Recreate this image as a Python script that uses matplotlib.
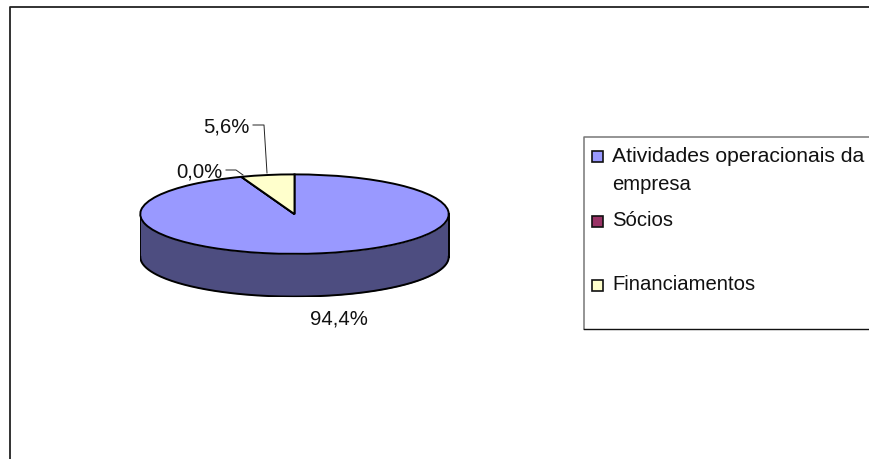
import numpy as np
import matplotlib
matplotlib.use("Agg")
import matplotlib.pyplot as plt
from matplotlib.patches import Rectangle

categories = ["Atividades operacionais da\nempresa", "Sócios", "Financiamentos"]
values = [94.4, 0.0, 5.6]
labels = ["94,4%", "0,0%", "5,6%"]
colors = ["#9999FF", "#993366", "#FFFFCC"]
side_color = "#4D4D80"

W, H = 869, 460
plt.rcParams["font.family"] = ["Liberation Sans", "DejaVu Sans"]
fig = plt.figure(figsize=(W / 100, H / 100), dpi=100, facecolor="white")

# overlay in pixel coordinates for frame, legend, labels
ov = fig.add_axes([0, 0, 1, 1], zorder=3)
ov.set_xlim(0, W)
ov.set_ylim(H, 0)
ov.axis("off")
ov.patch.set_alpha(0)

cx, cy, rx, ry, depth = 294.5, 215, 155, 40, 43

# pie axes: 1 data unit = rx px horizontally, ry px vertically
bottom_units = 1 + depth / ry
pie_ax = fig.add_axes([(cx - rx) / W, 1 - (cy + ry + depth) / H,
                       2 * rx / W, (2 * ry + depth) / H], zorder=2)
t = np.linspace(np.pi, 2 * np.pi, 200)
xs, ys = np.cos(t), np.sin(t)
pie_ax.fill_between(xs, ys, ys - depth / ry, color=side_color, lw=0)
pie_ax.plot(xs, ys - depth / ry, color="black", lw=1.4)
pie_ax.plot([-1, -1], [0, -depth / ry], color="black", lw=1.4)
pie_ax.plot([1, 1], [0, -depth / ry], color="black", lw=1.4)
pie_ax.pie(values, colors=colors, startangle=90, counterclock=False, radius=1,
           wedgeprops=dict(edgecolor="black", linewidth=1.4))
pie_ax.set_aspect("auto")
pie_ax.set_xlim(-1.005, 1.005)
pie_ax.set_ylim(-bottom_units - 0.01, 1.01)
pie_ax.axis("off")

# chart frame
ov.plot([9.5, 9.5, W + 2], [H + 2, 7.5, 7.5], color="#222222", lw=1.3, clip_on=False)

# data labels and leaders
fs = 14.6
ov.text(339, 319, labels[0], ha="center", va="center", fontsize=fs, color="#111111")
ov.text(199, 172, labels[1], ha="center", va="center", fontsize=fs, color="#111111")
ov.text(226, 127, labels[2], ha="center", va="center", fontsize=fs, color="#111111")
ov.plot([253, 264, 267], [126, 126, 174], color="#222222", lw=0.7)
ov.plot([226, 236, 243], [171, 171, 176], color="#222222", lw=0.7)

# legend
ov.plot([W + 2, 584, 584], [138, 138, 330], color="#777777", lw=1.1)
ov.plot([584, W + 2], [330, 330], color="#111111", lw=1.0)
ys_leg = [157, 222, 286]
ty_leg = [(157, 185), (221,), (285,)]
for c, name, y, tys in zip(colors, categories, ys_leg, ty_leg):
    ov.add_patch(Rectangle((591.5, y - 5.5), 11, 11, fc=c, ec="#111111", lw=1.2))
    for line, ty in zip(name.split("\n"), tys):
        ov.text(612, ty, line, ha="left", va="center",
                fontsize=15.2 if len(line) > 20 else fs, color="#111111")

fig.savefig("out.png", dpi=100)
